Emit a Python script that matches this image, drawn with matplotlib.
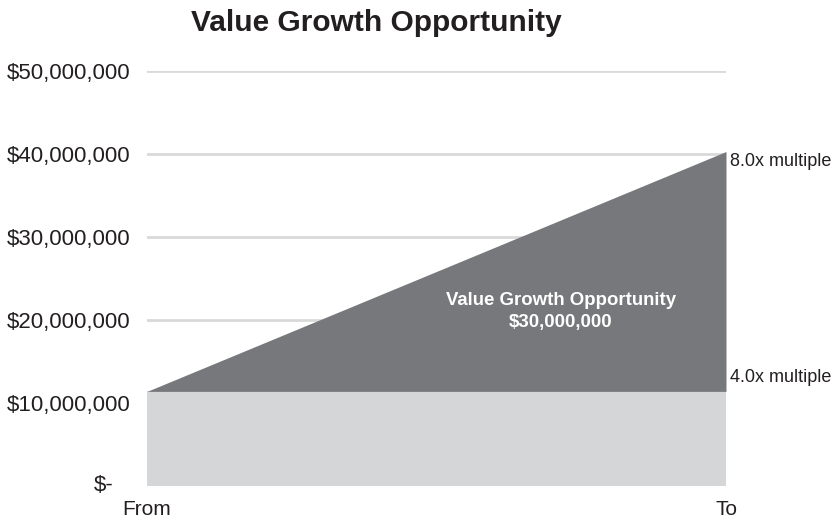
import matplotlib.pyplot as plt
from matplotlib.ticker import FuncFormatter
from matplotlib.transforms import ScaledTranslation

plt.rcParams['font.family'] = ['Liberation Sans', 'DejaVu Sans']

# data
stages = ['From', 'To']
base_value = [11_400_000, 11_400_000]      # 4.0x multiple
total_value = [11_400_000, 40_300_000]     # 8.0x multiple
multiple_labels = ['4.0x multiple', '8.0x multiple']
growth_label = 'Value Growth Opportunity\n$30,000,000'
y_ticks = [0, 10_000_000, 20_000_000, 30_000_000, 40_000_000, 50_000_000]

light = '#d5d6d8'
dark = '#77787b'
grid = '#d9d9d9'
txt = '#231f20'

fig = plt.figure(figsize=(8.35, 5.21), dpi=100)
ax = fig.add_axes([147/835, 35/521, 579/835, 415/521])

x = list(range(len(stages)))
ax.fill_between(x, 0, base_value, color=light, lw=0, zorder=2)
ax.fill_between(x, base_value, total_value, color=dark, lw=0, zorder=2)

ax.set_xlim(0, 1)
ax.set_ylim(0, 50_000_000)
ax.set_yticks(y_ticks)
ax.yaxis.set_major_formatter(FuncFormatter(lambda v, p: '$-' if v == 0 else f'${v:,.0f}'))
ax.set_xticks(x)
ax.set_xticklabels(stages)
ax.tick_params(axis='y', length=0, pad=12, labelsize=16, labelcolor=txt)
ax.tick_params(axis='x', length=0, pad=10, labelsize=15, labelcolor=txt)
ax.grid(axis='y', color=grid, lw=2, zorder=1)
ax.set_axisbelow(True)
for s in ax.spines.values():
    s.set_visible(False)

# accounting style: the "$-" label sits a bit further left
zero_lbl = ax.yaxis.get_major_ticks()[0].label1
zero_lbl.set_transform(zero_lbl.get_transform() + ScaledTranslation(-0.17, 0.03, fig.dpi_scale_trans))

# multiple labels at right edge
ax.annotate(multiple_labels[1], (1, total_value[1]), xytext=(3, -7), textcoords='offset points',
            ha='left', va='center', fontsize=13, color=txt, annotation_clip=False)
ax.annotate(multiple_labels[0], (1, base_value[1]), xytext=(3, 10), textcoords='offset points',
            ha='left', va='center', fontsize=13, color=txt, annotation_clip=False)

ax.text(0.715, 21_000_000, growth_label, ha='center', va='center', color='white',
        fontsize=13.4, fontweight='bold', linespacing=1.35, zorder=3)

fig.text(376/835, 1 - 23/521, 'Value Growth Opportunity', ha='center', va='center',
         fontsize=21.5, fontweight='bold', color=txt)

fig.savefig('out.png', dpi=100)
